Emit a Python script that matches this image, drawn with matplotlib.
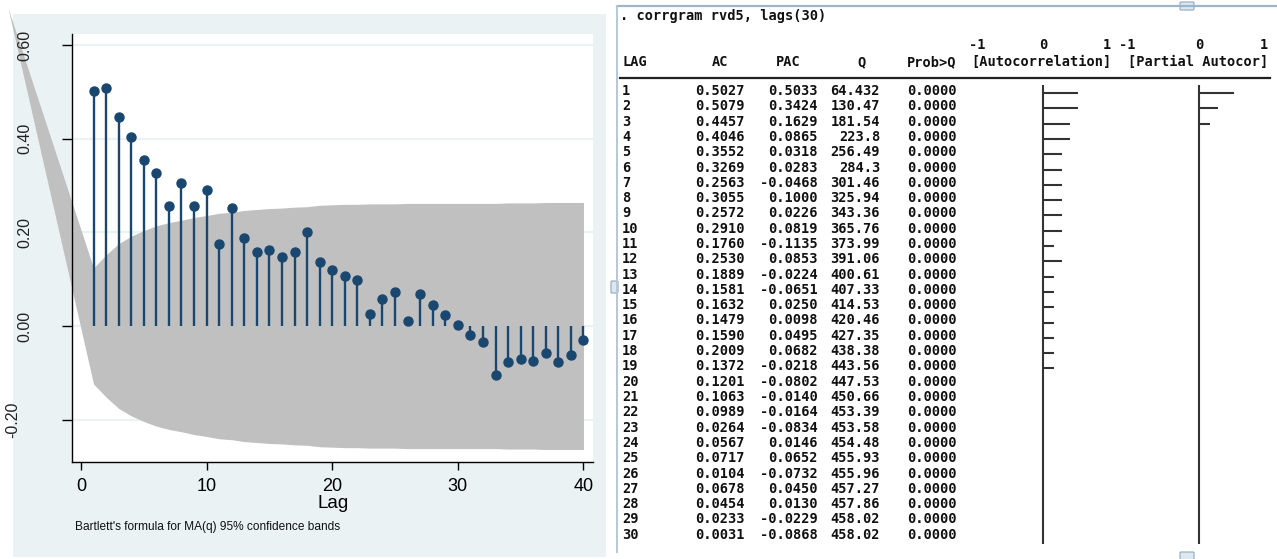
import numpy as np
import matplotlib
matplotlib.use("Agg")
import matplotlib.pyplot as plt
import matplotlib.transforms as mtransforms
from matplotlib.patches import Rectangle, FancyBboxPatch

W, H = 1277, 559

# ---------------- data ----------------
lags = np.arange(1, 41)
ac = [0.5027, 0.5079, 0.4457, 0.4046, 0.3552, 0.3269, 0.2563, 0.3055, 0.2572, 0.2910,
      0.1760, 0.2530, 0.1889, 0.1581, 0.1632, 0.1479, 0.1590, 0.2009, 0.1372, 0.1201,
      0.1063, 0.0989, 0.0264, 0.0567, 0.0717, 0.0104, 0.0678, 0.0454, 0.0233, 0.0031,
      -0.019, -0.034, -0.104, -0.077, -0.071, -0.075, -0.058, -0.077, -0.061, -0.030]
# Bartlett 95% band (upper limit; lower = -upper)
band_hi = [0.124, 0.152, 0.176, 0.192, 0.204, 0.214, 0.221, 0.226, 0.232, 0.236,
           0.241, 0.243, 0.247, 0.249, 0.251, 0.252, 0.254, 0.255, 0.258, 0.259,
           0.260, 0.260, 0.261, 0.261, 0.261, 0.262, 0.262, 0.262, 0.262, 0.262,
           0.262, 0.262, 0.262, 0.263, 0.263, 0.263, 0.264, 0.264, 0.264, 0.264]
# the band polygon in the picture starts from a stray point left of lag 0
band_start_lag = -5.81
band_start_val = 0.680

yticks = [-0.20, 0.00, 0.20, 0.40, 0.60]
xticks = [0, 10, 20, 30, 40]

# corrgram table (lags 1..30)
tab_lag = list(range(1, 31))
tab_ac = ac[:30]
tab_pac = [0.5033, 0.3424, 0.1629, 0.0865, 0.0318, 0.0283, -0.0468, 0.1000, 0.0226, 0.0819,
           -0.1135, 0.0853, -0.0224, -0.0651, 0.0250, 0.0098, 0.0495, 0.0682, -0.0218, -0.0802,
           -0.0140, -0.0164, -0.0834, 0.0146, 0.0652, -0.0732, 0.0450, 0.0130, -0.0229, -0.0868]
tab_q = [64.432, 130.47, 181.54, 223.8, 256.49, 284.3, 301.46, 325.94, 343.36, 365.76,
         373.99, 391.06, 400.61, 407.33, 414.53, 420.46, 427.35, 438.38, 443.56, 447.53,
         450.66, 453.39, 453.58, 454.48, 455.93, 455.96, 457.27, 457.86, 458.02, 458.02]
tab_prob = [0.0] * 30

NAVY = "#1A476F"
BAND = "#C0C0C0"
BG = "#EAF2F3"

fig = plt.figure(figsize=(W / 100, H / 100), dpi=100)
fig.patch.set_facecolor("white")

# pixel-space layout layer
lay = fig.add_axes([0, 0, 1, 1])
lay.set_xlim(0, W); lay.set_ylim(H, 0); lay.axis("off")
lay.add_patch(Rectangle((13, 14), 593, 543, facecolor=BG, lw=0))

# ---------------- left: Stata ac graph ----------------
ax = fig.add_axes([72.3 / W, 1 - 461.7 / H, (593 - 72.3) / W, (461.7 - 34) / H])
ax.set_facecolor("white")
ax.set_xlim(-0.69, 40.76)
ax.set_ylim(-0.290, 0.624)

bx = np.r_[band_start_lag, lags]
bhi = np.r_[band_start_val, band_hi]
blo = np.r_[band_start_val, -np.array(band_hi)]
ax.fill_between(bx, blo, bhi, color=BAND, lw=0, zorder=1, clip_on=False)

ax.vlines(lags, 0, ac, color=NAVY, lw=1.7, zorder=3)
ax.plot(lags, ac, "o", color=NAVY, ms=6.5, mec=NAVY, zorder=4)

ax.set_yticks(yticks)
ax.set_yticklabels([])
ax.yaxis.grid(True, color=BG, lw=1.6)
ax.set_axisbelow(True)
ax.set_xticks(xticks)
ax.set_xticklabels([str(t) for t in xticks], fontsize=13, family="Liberation Sans")
ax.tick_params(axis="x", direction="out", length=6, width=1, pad=6, colors="black")
ax.tick_params(axis="y", direction="out", length=7, width=1)
for s in ["top", "right"]:
    ax.spines[s].set_visible(False)
for s in ["left", "bottom"]:
    ax.spines[s].set_linewidth(1.0)
    ax.spines[s].set_zorder(5)

tr = mtransforms.blended_transform_factory(lay.transData, ax.transData)
for v in yticks:
    xpos = 13 if v < 0 else 25
    ax.text(xpos, v, f"{v:.2f}", transform=tr, rotation=90, ha="center", va="center",
            rotation_mode="anchor", fontsize=11.5, family="Liberation Sans",
            color="#222222", clip_on=False, zorder=6)

lay.text(333, 503, "Lag", ha="center", va="center", fontsize=13.5, family="Liberation Sans")
lay.text(75, 527, "Bartlett's formula for MA(q) 95% confidence bands", ha="left", va="center",
         fontsize=8.6, family="Liberation Sans", color="#111111")

# ---------------- right: corrgram console output ----------------
mono = dict(family="DejaVu Sans Mono", weight="bold", fontsize=9.8, color="#111111", va="center")

# window frame
lay.plot([617, W], [6, 6], color="#9DB4CA", lw=1.6)
lay.plot([617, 617], [6, 552], color="#B9C6D3", lw=1.4)
lay.add_patch(FancyBboxPatch((1181, 3), 12, 6, boxstyle="round,pad=1", fc="#DCE7F0", ec="#8FA8C0", lw=0.8))
lay.add_patch(FancyBboxPatch((1181, 553), 12, 6, boxstyle="round,pad=1", fc="#DCE7F0", ec="#8FA8C0", lw=0.8))
lay.add_patch(FancyBboxPatch((612, 282), 5, 10, boxstyle="round,pad=1", fc="#DCE7F0", ec="#8FA8C0", lw=0.8))

lay.text(620, 16, ". corrgram rvd5, lags(30)", ha="left", **mono)

for s, x in zip(["-1", "0", "1", "-1", "0", "1"], [977, 1043, 1107, 1127, 1199, 1264]):
    lay.text(x, 45, s, ha="center", **mono)
lay.text(622, 62, "LAG", ha="left", **mono)
lay.text(720, 62, "AC", ha="center", **mono)
lay.text(788, 62, "PAC", ha="center", **mono)
lay.text(862, 62, "Q", ha="center", **mono)
lay.text(907, 62, "Prob>Q", ha="left", **mono)
lay.text(1041, 62, "[Autocorrelation]", ha="center", **mono)
lay.text(1198, 62, "[Partial Autocor]", ha="center", **mono)
lay.plot([620, 1270], [78, 78], color="#222222", lw=1.6)

row0, dy = 91, 15.3
for i, k in enumerate(tab_lag):
    y = row0 + i * dy
    lay.text(622, y, f"{k}", ha="left", **mono)
    lay.text(745, y, f"{tab_ac[i]:.4f}", ha="right", **mono)
    lay.text(818, y, f"{tab_pac[i]:.4f}", ha="right", **mono)
    lay.text(880, y, f"{tab_q[i]:.5g}", ha="right", **mono)
    lay.text(957, y, f"{tab_prob[i]:.4f}", ha="right", **mono)

# text-mode bars: one character = 1/8
rows = np.array(tab_lag)
top_px, bot_px = 93 - 0.5 * dy, 93 + 29.5 * dy
for centre, vals in [(1043, tab_ac), (1199, tab_pac)]:
    axb = fig.add_axes([(centre - 64) / W, 1 - bot_px / H, 128 / W, (bot_px - top_px) / H])
    axb.set_xlim(-1, 1); axb.set_ylim(30.5, 0.5); axb.axis("off")
    axb.axvline(0, color="#333333", lw=1.5)
    n = np.trunc(np.array(vals) * 8)
    m = n != 0
    axb.hlines(rows[m], 0, (n[m] + 0.4 * np.sign(n[m])) / 8, color="#333333", lw=1.5)

fig.savefig("out.png", dpi=100)
